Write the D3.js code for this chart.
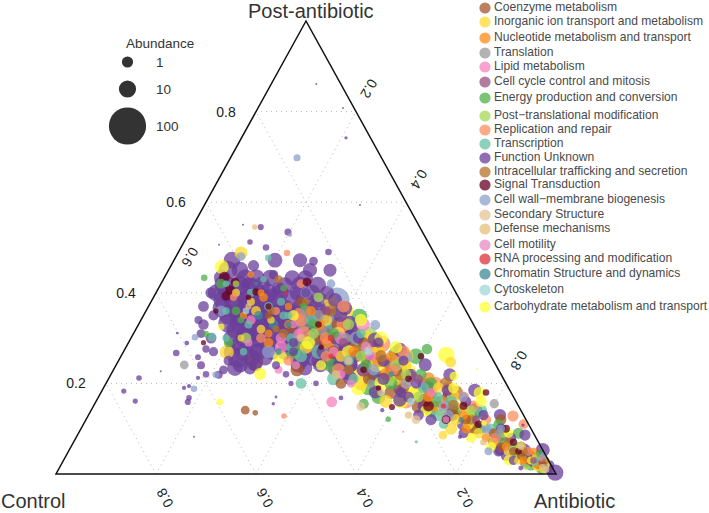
<!DOCTYPE html>
<html>
<head>
<meta charset="utf-8">
<script src="https://cdn.jsdelivr.net/npm/d3@7"></script>
<style>
  html, body { margin: 0; padding: 0; background: #fff; }
  text { font-family: "Liberation Sans", Arial, sans-serif; }
</style>
</head>
<body>
<div id="chart"></div>
<script>
// every point is [post-antibiotic share, antibiotic share, abundance], control is the rest

var coenzyme = [[.247,.274,10],[.23,.367,2],[.141,.308,.3],[.135,.331,.06],[.33,.4,3],[.3,.38,2],[.27,.42,1.5],[.29,.47,1],[.25,.5,4],[.21,.52,1],[.22,.56,2],[.19,.6,1],[.16,.66,.8],[.17,.7,2],[.13,.73,1],[.12,.76,.5],[.1,.79,.8],[.09,.83,.5],[.06,.86,.4],[.05,.89,.3],[.03,.93,.2],[.38,.3,.5],[.2,.47,.8],
  [.31,.44,5],[.24,.55,4],[.18,.58,2],[.15,.65,3],[.12,.83,.8],[.04,.91,.25],[.02,.965,.1],[.35,.25,.1],[.32,.31,.2]];

var inorganic = [[.488,.126,2],[.269,.207,3],[.247,.666,.8],[.086,.731,.3],[.38,.36,3],[.34,.37,1.5],[.31,.41,2],[.28,.36,2],[.26,.44,1],[.27,.51,1.5],[.23,.53,3],[.21,.58,2],[.24,.58,1],[.18,.63,2],[.19,.67,1],[.14,.7,1.5],[.15,.74,.8],[.12,.74,1],[.09,.8,.7],[.07,.84,.6],[.05,.88,.5],[.03,.91,.3],[.02,.95,.2],[.01,.97,.15],[.36,.22,.5],[.32,.25,.3],[.04,.94,.2],
  [.36,.4,5],[.3,.47,4],[.25,.46,6],[.22,.49,5],[.26,.57,4],[.2,.51,3],[.16,.58,2],[.17,.71,2],[.13,.76,1.5],[.1,.74,1.5],[.06,.9,.6],[.015,.955,.2],[.38,.2,.2],[.34,.26,.15],[.4,.16,.2],[.3,.22,.12]];

var nucleotide = [[.36,.33,.5],[.33,.36,1.5],[.29,.4,2],[.27,.46,.8],[.25,.52,2],[.22,.55,1.5],[.26,.54,.6],[.2,.6,1],[.17,.66,.6],[.15,.68,1],[.13,.75,.5],[.1,.77,.4],[.08,.82,.3],[.06,.87,.25],[.03,.92,.2],[.33,.3,.3],[.39,.22,.3],[.29,.28,.5],
  [.32,.42,6],[.28,.5,5],[.23,.51,4],[.21,.64,2],[.16,.69,1.5],[.37,.28,.15],[.35,.2,.15],[.31,.27,.2],[.4,.21,.12],[.44,.17,.1],[.02,.95,.12],[.05,.93,.15]];

var translation = [[.241,.136,.3],[.155,.799,.4],[.32,.37,2],[.35,.35,1],[.3,.43,.6],[.2,.53,.2],[.09,.84,.15],[.33,.33,3],[.3,.36,3],[.29,.34,4],[.36,.32,1],[.015,.97,.1]];

var lipid = [[.159,.472,.8],[.31,.33,.6],[.34,.22,.4],[.3,.3,.8],[.27,.42,.5],[.22,.46,.3],[.18,.66,.3],[.23,.33,.2],[.31,.41,3],[.28,.31,1.5],[.33,.45,2],[.26,.5,.6]];

var cellCycle = [[.36,.36,.4],[.29,.43,.4],[.21,.62,.3],[.12,.78,.2],[.03,.94,.1],[.31,.38,3],[.34,.34,3],[.025,.96,.12]];

var energy = [[.347,.433,7],[.265,.55,10],[.276,.604,.7],[.155,.538,.6],[.121,.604,.06],[.433,.08,.1],[.309,.145,.1],[.29,.355,3],[.31,.4,1],[.27,.47,3],[.24,.5,1],[.26,.59,5],[.21,.53,3],[.2,.57,2],[.22,.62,1],[.2,.65,1.5],[.16,.68,1],[.14,.73,2],[.13,.77,2],[.1,.8,.8],[.11,.83,.6],[.07,.86,.8],[.05,.9,1],[.035,.925,1.5],[.02,.94,1],[.42,.12,.5],[.36,.18,.3],[.29,.2,.4],[.33,.35,.8],[.01,.965,.4],
  [.27,.34,4],[.24,.43,3],[.19,.53,4],[.17,.56,3],[.14,.68,2],[.09,.88,1],[.34,.2,.1],[.41,.25,.1],[.37,.31,.12],[.045,.945,.15]];

var postTrans = [[.307,.473,7],[.3,.23,.8],[.42,.15,.1],[.33,.42,1],[.26,.48,.8],[.24,.56,1.5],[.22,.59,.7],[.17,.64,.8],[.14,.76,.5],[.09,.85,.4],[.06,.89,.4],[.04,.9,.6],[.02,.93,.5],[.29,.44,4],[.21,.56,2],[.39,.33,.5],[.31,.36,.8]];

var replication = [[.488,.218,.1],[.128,.392,.06],[.093,.648,.01],[.128,.85,1],[.287,.509,7],[.37,.39,1.5],[.34,.32,2],[.31,.34,3],[.3,.39,1.5],[.26,.41,.8],[.27,.56,1.5],[.23,.56,.8],[.215,.6,1.5],[.19,.69,2],[.17,.73,1],[.15,.76,1],[.12,.8,.7],[.08,.84,.5],[.05,.92,.3],[.3,.26,.5],[.42,.28,.3],[.25,.34,.5],
  [.28,.38,5],[.35,.31,4],[.33,.41,3],[.25,.56,3],[.2,.66,2],[.16,.62,3],[.23,.45,2],[.11,.88,.5],[.36,.26,.2],[.39,.16,.15],[.035,.955,.12]];

var transcription = [[.477,.186,.1],[.302,.161,.3],[.071,.685,.02],[.31,.455,.4],[.34,.34,1],[.3,.32,.5],[.37,.24,.3],[.43,.2,.1],[.28,.33,.5],[.26,.36,1.5],[.25,.46,.8],[.21,.49,.6],[.19,.64,1],[.17,.68,.4],[.16,.71,1.5],[.13,.7,1.5],[.11,.72,.4],[.14,.78,1.5],[.1,.82,.7],[.06,.88,.5],[.03,.95,.2],[.35,.28,.2],
  [.32,.39,4],[.27,.39,3],[.21,.45,2],[.2,.39,.8],[.4,.19,.2],[.38,.26,.2],[.33,.22,.2],[.36,.16,.15],[.3,.19,.15],[.27,.24,.15],[.42,.13,.1],[.35,.29,.15],[.025,.945,.12]];

var functionUnknown = [
  [.472,.116,8],[.472,.202,4],[.472,.252,3],[.45,.119,12],[.45,.143,8],[.45,.283,3],[.45,.323,2],
  [.417,.129,15],[.417,.159,12],[.417,.179,10],[.417,.203,8],[.417,.249,6],[.417,.279,10],[.417,.315,8],
  [.384,.14,10],[.384,.166,18],[.384,.196,20],[.384,.22,18],[.384,.24,20],[.384,.276,14],[.384,.306,12],[.384,.336,5],[.384,.366,3],
  [.351,.169,12],[.351,.197,20],[.351,.223,25],[.351,.249,22],[.351,.273,18],[.351,.303,12],[.351,.333,16],[.351,.363,8],[.351,.393,3],
  [.318,.199,10],[.318,.225,20],[.318,.249,22],[.318,.273,16],[.318,.309,14],[.318,.339,12],[.318,.369,6],[.318,.399,5],[.318,.419,5],
  [.285,.226,12],[.285,.256,16],[.285,.282,8],[.285,.316,4],[.285,.346,14],[.285,.376,5],[.285,.406,8],[.285,.426,3],
  [.256,.236,14],[.256,.264,8],[.256,.29,4],[.256,.36,14],[.256,.384,5],[.256,.42,8],[.256,.44,6],
  [.234,.241,6],[.234,.271,2],[.234,.381,4],[.234,.441,5],
  [.433,.116,8],[.433,.162,10],[.433,.184,9],[.433,.212,7],[.433,.256,5],[.433,.282,5],
  [.4,.12,8],[.4,.144,12],[.4,.174,14],[.4,.2,14],[.4,.224,12],[.4,.248,10],[.4,.284,8],[.4,.312,7],[.4,.342,3],
  [.366,.149,12],[.366,.175,15],[.366,.199,15],[.366,.225,15],[.366,.255,12],[.366,.275,10],[.366,.305,10],[.366,.335,8],[.366,.365,6],[.366,.395,3],
  [.333,.177,12],[.333,.201,14],[.333,.225,15],[.333,.249,15],[.333,.273,12],[.333,.297,12],[.333,.321,10],[.333,.353,7],[.333,.381,5],[.333,.421,4],
  [.3,.202,10],[.3,.228,14],[.3,.254,12],[.3,.278,10],[.3,.302,10],[.3,.328,10],[.3,.354,7],[.3,.388,6],[.3,.414,5],[.3,.442,3],
  [.269,.217,7],[.269,.243,12],[.269,.269,10],[.269,.297,5],[.269,.323,5],[.269,.363,8],[.269,.397,6],[.269,.443,4],
  [.241,.248,5],[.241,.278,2],[.241,.364,5],[.241,.408,4],[.241,.448,3],
  [.318,.429,5],[.274,.451,4],[.241,.468,4],[.212,.482,3],[.296,.49,4],[.252,.512,4],[.219,.528,3],[.181,.548,2],
  [.274,.551,3],[.23,.573,4],[.19,.593,3],[.163,.606,2],[.241,.618,2],[.196,.64,3],[.163,.656,2],
  [.219,.678,2],[.174,.701,3],[.13,.723,2],[.185,.745,2],[.141,.768,3],[.102,.787,2],
  [.13,.823,1.5],[.086,.845,2],[.053,.862,1],[.086,.895,1],[.053,.911,1.5],[.026,.925,.8],[.042,.947,.6],[.018,.959,.5],[.02,.978,.3],[.009,.983,.3],
  [.003,.997,7],[.053,.947,3],[.512,.132,.06],[.506,.073,.01],[.534,.197,.13],[.545,.137,.08],[.55,.099,.01],[.742,.209,.02],[.861,.09,.01],[.808,.17,.01],[.594,.311,.01],
  [.212,.06,.06],[.183,.044,.05],[.161,.078,.05],[.159,.184,.08],[.168,.182,.06],[.19,.161,.03],[.194,.169,.03],[.082,.235,.01],[.155,.357,.02],[.17,.355,.015],
  [.267,.107,.1],[.258,.155,.07],[.276,.162,.15],[.219,.216,.2],[.212,.178,.03],[.227,.096,.01],[.311,.087,.015],[.289,.117,.04],[.31,.135,.3],[.34,.115,.2],[.35,.14,.6],
  [.168,.486,.04],[.141,.582,.03],[.082,.767,.03],[.108,.88,.02],[.013,.923,.04],
  [.4,.11,1],[.37,.11,.8],[.33,.13,.7],[.3,.16,.8],[.27,.18,.4],[.24,.17,.2],[.22,.19,.1],[.25,.22,.5],[.23,.22,.3],
  [.36,.285,4],[.33,.29,5],[.41,.24,2],[.46,.165,1],[.44,.215,.4],[.47,.28,.3],[.5,.17,.1],[.49,.3,.1],
  [.31,.36,4],[.3,.41,2],[.28,.44,3],[.26,.47,1.5],[.27,.4,3],[.25,.4,4],[.24,.47,2],[.23,.5,3],[.22,.47,1],[.3,.455,1],[.29,.5,.6],
  [.25,.53,1.5],[.23,.565,2],[.21,.55,1.5],[.22,.6,1],[.25,.57,.6],[.2,.62,.7],[.18,.6,.8],[.19,.65,2],[.17,.62,.8],[.185,.69,1],[.15,.66,1.5],[.13,.66,.8],[.14,.72,3],[.12,.69,1],
  [.16,.74,.8],[.11,.76,2],[.13,.79,.6],[.09,.77,.5],[.1,.84,.6],[.07,.84,.9],[.08,.87,.6],[.05,.86,.7],[.06,.9,.8],[.04,.88,.6],[.03,.9,.4],[.04,.93,.5],[.02,.96,.3],[.03,.955,.3],[.015,.975,.3],[.01,.98,.2],[.025,.94,.25],
  [.4,.3,.5],[.42,.17,.3],[.29,.33,.4],[.24,.32,.2],[.2,.37,.05],[.2,.42,.06],[.22,.35,.1],[.27,.34,.3]
];

var intracellular = [[.36,.37,1],[.31,.3,.5],[.28,.46,3],[.26,.52,1.5],[.23,.47,.5],[.22,.58,2],[.2,.68,1.5],[.18,.66,2],[.18,.71,3],[.15,.72,1.5],[.12,.77,.6],[.1,.78,.8],[.07,.87,.5],[.05,.91,.3],[.02,.955,.2],[.43,.23,.2],[.36,.25,.2],[.38,.31,.15],[.32,.28,.12],[.03,.965,.12]];

var signal = [[.406,.145,.5],[.435,.119,.7],[.424,.146,.3],[.393,.144,.4],[.402,.199,.15],[.424,.29,.3],[.39,.19,.06],[.37,.24,.08],[.29,.15,.05],[.148,.598,.08],[.26,.6,.1],[.23,.5,.1],[.21,.6,.1],[.15,.67,.8],[.15,.74,.2],[.12,.72,.3],[.11,.79,.15],[.1,.85,.2],[.07,.88,.15],[.05,.9,.1],[.18,.77,.1],[.36,.14,.05],[.33,.36,.1],[.28,.39,.05],[.19,.55,.06]];

var cellWall = [[.698,.133,.13],[.528,.204,.03],[.188,.182,.1],[.302,.127,.1],[.219,.21,.1],[.384,.37,25],[.329,.474,.5],[.258,.571,2],[.35,.39,8],[.33,.38,6],[.3,.45,2],[.31,.37,5],[.28,.41,3],[.4,.3,1],[.42,.34,.3],[.23,.52,1],[.2,.6,.8],[.17,.73,.4],[.13,.72,.7],[.1,.81,.5],[.1,.84,.2],[.05,.84,.2],[.48,.13,.3],[.36,.15,.8],[.34,.39,4],[.27,.29,2],[.15,.7,.8],[.04,.955,.1]];

var secondary = [[.149,.535,.3],[.12,.66,.3],[.25,.46,.2],[.18,.56,.15],[.06,.9,.1],[.01,.975,.1]];

var defense = [[.545,.125,.06],[.22,.45,.2],[.3,.34,.2],[.37,.2,.08],[.13,.64,.15],[.07,.82,.1],[.015,.965,.1]];

var motility = [[.33,.31,.15],[.29,.24,.2],[.24,.36,.2],[.2,.49,.2],[.12,.72,.1],[.3,.42,2],[.28,.48,.8]];

var rnaProcessing = [[.3,.4,.1],[.26,.42,.05],[.15,.7,.05],[.4,.26,.03]];

var chromatin = [[.33,.3,.1],[.27,.31,.08],[.22,.56,.06],[.42,.19,.03],[.12,.75,.05],[.33,.27,.5],[.35,.23,.3]];

var cytoskeleton = [[.36,.2,.1],[.27,.49,.2],[.16,.63,.15]];

var carbohydrate = [[.457,.103,3],[.258,.319,3],[.221,.298,1.5],[.325,.168,.1],[.159,.248,.1],[.263,.649,7],[.216,.688,.3],[.179,.758,1.5],[.232,.726,.01],[.112,.8,.06],[.27,.45,2],[.24,.52,3],[.22,.52,5],[.2,.55,3],[.2,.59,6],[.23,.59,2],[.28,.54,1.5],[.18,.62,2],[.19,.7,.8],[.17,.65,3],[.14,.67,1],[.16,.77,1],[.11,.77,.7],[.08,.79,.6],[.09,.86,.4],[.06,.84,.5],[.03,.89,.6],[.35,.3,.8],[.29,.36,2],[.34,.44,1.5],[.02,.97,.15],[.24,.41,.6],[.26,.47,6],[.19,.51,4],[.16,.61,3],[.3,.5,2],[.03,.935,.2]];

var categories = ["Coenzyme metabolism", "Inorganic ion transport and metabolism", "Nucleotide metabolism and transport",
  "Translation", "Lipid metabolism", "Cell cycle control and mitosis", "Energy production and conversion",
  "Post\u2212translational modification", "Replication and repair", "Transcription", "Function Unknown",
  "Intracellular trafficking and secretion", "Signal Transduction", "Cell wall\u2212membrane biogenesis",
  "Secondary Structure", "Defense mechanisms", "Cell motility", "RNA processing and modification",
  "Chromatin Structure and dynamics", "Cytoskeleton", "Carbohydrate metabolism and transport"];

var series = [coenzyme, inorganic, nucleotide, translation, lipid, cellCycle, energy, postTrans, replication,
  transcription, functionUnknown, intracellular, signal, cellWall, secondary, defense, motility, rnaProcessing,
  chromatin, cytoskeleton, carbohydrate];

var colors = ["#a65628", "#ffd92f", "#ff8a14", "#999999", "#f781bf", "#984f7f", "#4daf4a", "#a6d854", "#fc8d62",
  "#66c2a5", "#6a3d9a", "#b5722a", "#67001f", "#8da0cb", "#e5c494", "#e5c07b", "#e78ac3", "#e0303a",
  "#3f8996", "#a0d8d8", "#ffff33"];

var gridTicks = [0.2, 0.4, 0.6, 0.8];
var sizeLegendValues = [1, 10, 100];

var width = 709, height = 513;

var svg = d3.select("#chart").append("svg")
  .attr("width", width)
  .attr("height", height)
  .style("display", "block");

// x runs along the base, a point sits at antibiotic + post/2
var xScale = d3.scaleLinear().domain([0, 1]).range([56, 556]);
var yScale = d3.scaleLinear().domain([0, 1]).range([474, 21]);

function px(post, anti) { return xScale(anti + post / 2); }
function py(post) { return yScale(post); }

// abundance to radius, follows the sizes in the legend
var rScale = d3.scaleLog().domain([0.01, 1, 10, 100]).range([1, 5.6, 8.6, 18.6]).clamp(true);

// dotted grid, one family per side
var grid = svg.append("g")
  .attr("fill", "none")
  .attr("stroke", "#b8b8b8")
  .attr("stroke-width", 1)
  .attr("stroke-dasharray", "1 4");

gridTicks.forEach(function(t) {
  var ends = [
    [[t, 0], [t, 1 - t]],          // constant post-antibiotic
    [[0, t], [1 - t, t]],          // constant antibiotic
    [[0, 1 - t], [1 - t, 0]]       // constant control
  ];
  ends.forEach(function(e) {
    grid.append("line")
      .attr("x1", px(e[0][0], e[0][1]))
      .attr("y1", py(e[0][0]))
      .attr("x2", px(e[1][0], e[1][1]))
      .attr("y2", py(e[1][0]));
  });
});

// points
var points = [];
series.forEach(function(s, i) {
  s.forEach(function(d) {
    points.push({post: d[0], anti: d[1], abundance: d[2], cat: i});
  });
});
points = d3.sort(points, function(a, b) { return d3.descending(a.abundance, b.abundance); });

svg.append("g").selectAll("circle")
  .data(points)
  .enter().append("circle")
  .attr("cx", function(d) { return px(d.post, d.anti); })
  .attr("cy", function(d) { return py(d.post); })
  .attr("r", function(d) { return rScale(d.abundance); })
  .attr("fill", function(d) { return colors[d.cat]; })
  .attr("fill-opacity", 0.75);

// triangle
svg.append("path")
  .attr("d", d3.line()([[px(1, 0), py(1)], [px(0, 0), py(0)], [px(0, 1), py(0)]]) + "Z")
  .attr("fill", "none")
  .attr("stroke", "#111")
  .attr("stroke-width", 1.5);

// tick labels
var tickLabels = svg.append("g")
  .attr("fill", "#222")
  .style("font-size", "14px")
  .attr("text-anchor", "middle");

gridTicks.forEach(function(t) {
  tickLabels.append("text")
    .attr("x", px(t, 0) - 30)
    .attr("y", py(t) + 5)
    .attr("fill", "#1a1a1a")
    .text(d3.format(".1f")(t));

  // the 0.6 of the antibiotic side sits inside the left edge in the original
  var ax = t === 0.6 ? 190 : px(1 - t, t) + 13;
  var ay = t === 0.6 ? 257 : py(1 - t) - 23;
  tickLabels.append("text")
    .attr("transform", "translate(" + ax + "," + ay + ") rotate(120)")
    .attr("dy", "0.35em")
    .text(d3.format(".1f")(t));

  tickLabels.append("text")
    .attr("transform", "translate(" + (px(0, 1 - t) + 9) + "," + (py(0) + 24) + ") rotate(240)")
    .attr("dy", "0.35em")
    .text(d3.format(".1f")(t));
});

// corner titles
var titles = svg.append("g").attr("fill", "#333").style("font-size", "20px");
titles.append("text").attr("x", 248).attr("y", 18).text("Post-antibiotic");
titles.append("text").attr("x", 1).attr("y", 508).text("Control");
titles.append("text").attr("x", 534).attr("y", 508).text("Antibiotic");

// category legend, spacing is uneven in the original
var legendY = [8, 22, 38, 53, 67, 82, 98, 116, 130, 144, 158, 172, 185, 200, 215, 229, 245, 259, 274, 290, 307];

var legend = svg.append("g").selectAll("g")
  .data(categories)
  .enter().append("g")
  .attr("transform", function(d, i) { return "translate(0," + legendY[i] + ")"; });

legend.append("circle")
  .attr("cx", 485)
  .attr("r", 5.6)
  .attr("fill", function(d, i) { return colors[i]; })
  .attr("fill-opacity", 0.75);

legend.append("text")
  .attr("x", 494)
  .attr("y", -1)
  .attr("dy", "0.35em")
  .attr("fill", "#4a4a4a")
  .style("font-size", "12.1px")
  .text(function(d) { return d; });

// abundance legend
var sizeY = [62, 89, 126];
var sizeLegend = svg.append("g");

sizeLegend.append("text")
  .attr("x", 126)
  .attr("y", 48)
  .attr("fill", "#333")
  .style("font-size", "13.5px")
  .text("Abundance");

sizeLegendValues.forEach(function(v, i) {
  sizeLegend.append("circle")
    .attr("cx", 127.5)
    .attr("cy", sizeY[i])
    .attr("r", rScale(v))
    .attr("fill", "#333");
  sizeLegend.append("text")
    .attr("x", 156)
    .attr("y", sizeY[i] + 5)
    .attr("fill", "#333")
    .style("font-size", "13.5px")
    .text(v);
});
</script>
</body>
</html>
